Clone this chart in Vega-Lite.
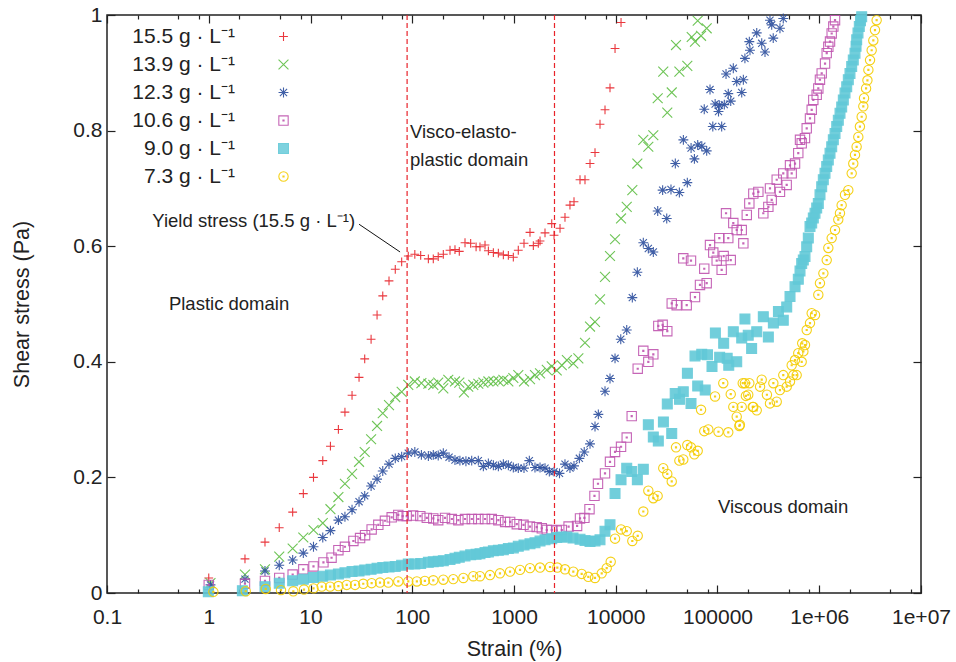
{
"$schema":"https://vega.github.io/schema/vega-lite/v6.json",
"width":814,"height":578,"autosize":"none",
"padding":{"left":107,"top":15,"right":35,"bottom":69},
"background":"white",
"config":{
 "view":{"stroke":"#222","strokeWidth":1.5},
 "font":"Liberation Sans",
 "axis":{"grid":false,"domain":false,"tickColor":"#222","tickWidth":1.2,"labelColor":"#222","titleColor":"#222","labelFontSize":21,"titleFontSize":21.5,"titleFontWeight":"normal","labelFont":"Liberation Sans","titleFont":"Liberation Sans","labelOverlap":false,"labelFlush":false,"labelBound":false},
 "legend":{"orient":"none","legendX":166,"legendY":11,"padding":0,"labelFontSize":21,"labelFont":"Liberation Sans","labelColor":"#222","labelAlign":"right","labelOffset":-59,"symbolOffset":0,"rowPadding":6,"symbolSize":121,"symbolStrokeWidth":1.1,"titleOrient":"top"}
},
"datasets":{
"pts":[
{"s":"15.5","x":1.0,"y":0.026},{"s":"15.5","x":2.27,"y":0.059},{"s":"15.5","x":3.57,"y":0.088},{"s":"15.5","x":4.93,"y":0.113},{"s":"15.5","x":6.68,"y":0.140},{"s":"15.5","x":8.5,"y":0.172},{"s":"15.5","x":10.7,"y":0.200},{"s":"15.5","x":13.2,"y":0.229},{"s":"15.5","x":15.7,"y":0.254},{"s":"15.5","x":18.8,"y":0.283},{"s":"15.5","x":21.8,"y":0.313},{"s":"15.5","x":25.6,"y":0.342},{"s":"15.5","x":30.0,"y":0.373},{"s":"15.5","x":34.1,"y":0.405},{"s":"15.5","x":39.4,"y":0.439},{"s":"15.5","x":45.1,"y":0.481},{"s":"15.5","x":51.3,"y":0.514},{"s":"15.5","x":59.1,"y":0.540},{"s":"15.5","x":68.1,"y":0.560},{"s":"15.5","x":78.7,"y":0.573},{"s":"15.5","x":91.4,"y":0.583},{"s":"15.5","x":106,"y":0.586},{"s":"15.5","x":121,"y":0.584},{"s":"15.5","x":144,"y":0.578},{"s":"15.5","x":161,"y":0.578},{"s":"15.5","x":180,"y":0.582},{"s":"15.5","x":202,"y":0.586},{"s":"15.5","x":235,"y":0.593},{"s":"15.5","x":263,"y":0.594},{"s":"15.5","x":290,"y":0.591},{"s":"15.5","x":330,"y":0.606},{"s":"15.5","x":375,"y":0.605},{"s":"15.5","x":424,"y":0.599},{"s":"15.5","x":463,"y":0.599},{"s":"15.5","x":519,"y":0.602},{"s":"15.5","x":560,"y":0.592},{"s":"15.5","x":627,"y":0.589},{"s":"15.5","x":702,"y":0.588},{"s":"15.5","x":786,"y":0.585},{"s":"15.5","x":880,"y":0.584},{"s":"15.5","x":985,"y":0.581},{"s":"15.5","x":1102,"y":0.593},{"s":"15.5","x":1254,"y":0.605},{"s":"15.5","x":1436,"y":0.624},{"s":"15.5","x":1549,"y":0.601},{"s":"15.5","x":1734,"y":0.605},{"s":"15.5","x":1802,"y":0.609},{"s":"15.5","x":2017,"y":0.623},{"s":"15.5","x":2349,"y":0.639},{"s":"15.5","x":2474,"y":0.619},{"s":"15.5","x":2833,"y":0.631},{"s":"15.5","x":3170,"y":0.650},{"s":"15.5","x":3548,"y":0.671},{"s":"15.5","x":3888,"y":0.677},{"s":"15.5","x":4454,"y":0.715},{"s":"15.5","x":4986,"y":0.715},{"s":"15.5","x":5585,"y":0.743},{"s":"15.5","x":6254,"y":0.762},{"s":"15.5","x":7003,"y":0.811},{"s":"15.5","x":7842,"y":0.836},{"s":"15.5","x":8780,"y":0.874},{"s":"15.5","x":9840,"y":0.942},{"s":"15.5","x":11270,"y":0.987},
{"s":"13.9","x":1.04,"y":0.017},{"s":"13.9","x":2.27,"y":0.032},{"s":"13.9","x":3.57,"y":0.041},{"s":"13.9","x":4.93,"y":0.063},{"s":"13.9","x":6.68,"y":0.077},{"s":"13.9","x":8.5,"y":0.096},{"s":"13.9","x":10.7,"y":0.109},{"s":"13.9","x":13.2,"y":0.121},{"s":"13.9","x":15.7,"y":0.145},{"s":"13.9","x":18.8,"y":0.166},{"s":"13.9","x":21.8,"y":0.189},{"s":"13.9","x":25.6,"y":0.206},{"s":"13.9","x":30.0,"y":0.227},{"s":"13.9","x":34.1,"y":0.244},{"s":"13.9","x":39.4,"y":0.266},{"s":"13.9","x":45.1,"y":0.289},{"s":"13.9","x":51.3,"y":0.311},{"s":"13.9","x":59.1,"y":0.325},{"s":"13.9","x":68.1,"y":0.339},{"s":"13.9","x":78.7,"y":0.348},{"s":"13.9","x":91.4,"y":0.360},{"s":"13.9","x":106,"y":0.366},{"s":"13.9","x":123,"y":0.363},{"s":"13.9","x":144,"y":0.362},{"s":"13.9","x":161,"y":0.360},{"s":"13.9","x":180,"y":0.364},{"s":"13.9","x":202,"y":0.354},{"s":"13.9","x":226,"y":0.369},{"s":"13.9","x":263,"y":0.366},{"s":"13.9","x":290,"y":0.364},{"s":"13.9","x":322,"y":0.347},{"s":"13.9","x":355,"y":0.357},{"s":"13.9","x":398,"y":0.360},{"s":"13.9","x":446,"y":0.362},{"s":"13.9","x":500,"y":0.364},{"s":"13.9","x":560,"y":0.366},{"s":"13.9","x":627,"y":0.366},{"s":"13.9","x":702,"y":0.367},{"s":"13.9","x":786,"y":0.369},{"s":"13.9","x":880,"y":0.366},{"s":"13.9","x":985,"y":0.372},{"s":"13.9","x":1102,"y":0.377},{"s":"13.9","x":1254,"y":0.366},{"s":"13.9","x":1436,"y":0.370},{"s":"13.9","x":1608,"y":0.377},{"s":"13.9","x":1802,"y":0.380},{"s":"13.9","x":2100,"y":0.386},{"s":"13.9","x":2349,"y":0.392},{"s":"13.9","x":2630,"y":0.385},{"s":"13.9","x":2950,"y":0.394},{"s":"13.9","x":3310,"y":0.403},{"s":"13.9","x":3828,"y":0.397},{"s":"13.9","x":4290,"y":0.406},{"s":"13.9","x":4986,"y":0.433},{"s":"13.9","x":5585,"y":0.461},{"s":"13.9","x":6254,"y":0.469},{"s":"13.9","x":7003,"y":0.508},{"s":"13.9","x":7842,"y":0.547},{"s":"13.9","x":8780,"y":0.583},{"s":"13.9","x":9840,"y":0.612},{"s":"13.9","x":11270,"y":0.648},{"s":"13.9","x":12820,"y":0.668},{"s":"13.9","x":14550,"y":0.697},{"s":"13.9","x":16300,"y":0.743},{"s":"13.9","x":18660,"y":0.784},{"s":"13.9","x":20900,"y":0.772},{"s":"13.9","x":23400,"y":0.792},{"s":"13.9","x":25850,"y":0.856},{"s":"13.9","x":29300,"y":0.902},{"s":"13.9","x":32100,"y":0.831},{"s":"13.9","x":35500,"y":0.866},{"s":"13.9","x":39100,"y":0.948},{"s":"13.9","x":42200,"y":0.902},{"s":"13.9","x":50500,"y":0.912},{"s":"13.9","x":55800,"y":0.962},{"s":"13.9","x":60100,"y":0.954},{"s":"13.9","x":63900,"y":0.990},{"s":"13.9","x":68900,"y":0.964},{"s":"13.9","x":78300,"y":0.977},
{"s":"12.3","x":1.04,"y":0.014},{"s":"12.3","x":2.27,"y":0.024},{"s":"12.3","x":3.57,"y":0.038},{"s":"12.3","x":4.93,"y":0.048},{"s":"12.3","x":6.68,"y":0.057},{"s":"12.3","x":8.5,"y":0.069},{"s":"12.3","x":10.7,"y":0.080},{"s":"12.3","x":13.2,"y":0.096},{"s":"12.3","x":15.7,"y":0.108},{"s":"12.3","x":18.8,"y":0.126},{"s":"12.3","x":21.8,"y":0.132},{"s":"12.3","x":25.6,"y":0.144},{"s":"12.3","x":30.0,"y":0.158},{"s":"12.3","x":34.1,"y":0.168},{"s":"12.3","x":39.4,"y":0.185},{"s":"12.3","x":45.1,"y":0.197},{"s":"12.3","x":51.3,"y":0.211},{"s":"12.3","x":59.1,"y":0.223},{"s":"12.3","x":68.1,"y":0.233},{"s":"12.3","x":78.7,"y":0.236},{"s":"12.3","x":91.4,"y":0.242},{"s":"12.3","x":106,"y":0.244},{"s":"12.3","x":123,"y":0.239},{"s":"12.3","x":144,"y":0.237},{"s":"12.3","x":161,"y":0.239},{"s":"12.3","x":180,"y":0.238},{"s":"12.3","x":202,"y":0.242},{"s":"12.3","x":230,"y":0.235},{"s":"12.3","x":263,"y":0.230},{"s":"12.3","x":294,"y":0.229},{"s":"12.3","x":337,"y":0.228},{"s":"12.3","x":384,"y":0.229},{"s":"12.3","x":446,"y":0.229},{"s":"12.3","x":500,"y":0.219},{"s":"12.3","x":560,"y":0.224},{"s":"12.3","x":627,"y":0.221},{"s":"12.3","x":702,"y":0.219},{"s":"12.3","x":786,"y":0.223},{"s":"12.3","x":880,"y":0.221},{"s":"12.3","x":985,"y":0.217},{"s":"12.3","x":1102,"y":0.216},{"s":"12.3","x":1254,"y":0.216},{"s":"12.3","x":1415,"y":0.229},{"s":"12.3","x":1608,"y":0.217},{"s":"12.3","x":1802,"y":0.217},{"s":"12.3","x":2017,"y":0.216},{"s":"12.3","x":2225,"y":0.210},{"s":"12.3","x":2474,"y":0.210},{"s":"12.3","x":2800,"y":0.207},{"s":"12.3","x":3170,"y":0.223},{"s":"12.3","x":3548,"y":0.216},{"s":"12.3","x":3888,"y":0.220},{"s":"12.3","x":4390,"y":0.233},{"s":"12.3","x":4900,"y":0.244},{"s":"12.3","x":5585,"y":0.258},{"s":"12.3","x":6254,"y":0.288},{"s":"12.3","x":6745,"y":0.309},{"s":"12.3","x":7842,"y":0.349},{"s":"12.3","x":8780,"y":0.371},{"s":"12.3","x":9840,"y":0.406},{"s":"12.3","x":11200,"y":0.439},{"s":"12.3","x":12820,"y":0.455},{"s":"12.3","x":14550,"y":0.511},{"s":"12.3","x":16300,"y":0.555},{"s":"12.3","x":18660,"y":0.606},{"s":"12.3","x":20900,"y":0.596},{"s":"12.3","x":23400,"y":0.590},{"s":"12.3","x":25850,"y":0.661},{"s":"12.3","x":28900,"y":0.697},{"s":"12.3","x":31700,"y":0.648},{"s":"12.3","x":34900,"y":0.698},{"s":"12.3","x":38500,"y":0.743},{"s":"12.3","x":42200,"y":0.693},{"s":"12.3","x":46200,"y":0.784},{"s":"12.3","x":50500,"y":0.710},{"s":"12.3","x":55000,"y":0.770},{"s":"12.3","x":59300,"y":0.751},{"s":"12.3","x":63900,"y":0.775},{"s":"12.3","x":70100,"y":0.773},{"s":"12.3","x":74100,"y":0.837},{"s":"12.3","x":78300,"y":0.765},{"s":"12.3","x":84400,"y":0.871},{"s":"12.3","x":89900,"y":0.807},{"s":"12.3","x":94800,"y":0.846},{"s":"12.3","x":102300,"y":0.833},{"s":"12.3","x":104200,"y":0.844},{"s":"12.3","x":109900,"y":0.807},{"s":"12.3","x":116700,"y":0.845},{"s":"12.3","x":121300,"y":0.898},{"s":"12.3","x":127600,"y":0.864},{"s":"12.3","x":134900,"y":0.851},{"s":"12.3","x":143000,"y":0.908},{"s":"12.3","x":154500,"y":0.885},{"s":"12.3","x":173000,"y":0.866},{"s":"12.3","x":179500,"y":0.888},{"s":"12.3","x":186000,"y":0.925},{"s":"12.3","x":205500,"y":0.954},{"s":"12.3","x":208500,"y":0.939},{"s":"12.3","x":243000,"y":0.969},{"s":"12.3","x":272000,"y":0.951},{"s":"12.3","x":293000,"y":0.936},{"s":"12.3","x":328000,"y":0.991},{"s":"12.3","x":341000,"y":0.983},{"s":"12.3","x":353000,"y":0.960},{"s":"12.3","x":411000,"y":0.977},{"s":"12.3","x":443000,"y":0.994},
{"s":"10.6","x":1.0,"y":0.014},{"s":"10.6","x":2.27,"y":0.016},{"s":"10.6","x":3.57,"y":0.021},{"s":"10.6","x":4.93,"y":0.026},{"s":"10.6","x":6.68,"y":0.032},{"s":"10.6","x":8.5,"y":0.041},{"s":"10.6","x":10.7,"y":0.046},{"s":"10.6","x":13.4,"y":0.053},{"s":"10.6","x":16.1,"y":0.061},{"s":"10.6","x":18.8,"y":0.074},{"s":"10.6","x":21.8,"y":0.080},{"s":"10.6","x":26.4,"y":0.090},{"s":"10.6","x":30.7,"y":0.095},{"s":"10.6","x":34.4,"y":0.100},{"s":"10.6","x":39.9,"y":0.110},{"s":"10.6","x":46.4,"y":0.118},{"s":"10.6","x":53.9,"y":0.125},{"s":"10.6","x":62.8,"y":0.131},{"s":"10.6","x":72.9,"y":0.135},{"s":"10.6","x":80.5,"y":0.133},{"s":"10.6","x":88.2,"y":0.133},{"s":"10.6","x":102,"y":0.134},{"s":"10.6","x":120,"y":0.133},{"s":"10.6","x":139,"y":0.130},{"s":"10.6","x":161,"y":0.129},{"s":"10.6","x":180,"y":0.126},{"s":"10.6","x":210,"y":0.130},{"s":"10.6","x":245,"y":0.128},{"s":"10.6","x":284,"y":0.126},{"s":"10.6","x":330,"y":0.128},{"s":"10.6","x":385,"y":0.128},{"s":"10.6","x":446,"y":0.128},{"s":"10.6","x":519,"y":0.128},{"s":"10.6","x":605,"y":0.128},{"s":"10.6","x":702,"y":0.126},{"s":"10.6","x":818,"y":0.123},{"s":"10.6","x":916,"y":0.123},{"s":"10.6","x":1065,"y":0.119},{"s":"10.6","x":1240,"y":0.118},{"s":"10.6","x":1436,"y":0.115},{"s":"10.6","x":1672,"y":0.114},{"s":"10.6","x":1876,"y":0.112},{"s":"10.6","x":2100,"y":0.109},{"s":"10.6","x":2349,"y":0.109},{"s":"10.6","x":2630,"y":0.108},{"s":"10.6","x":2950,"y":0.109},{"s":"10.6","x":3440,"y":0.115},{"s":"10.6","x":4170,"y":0.116},{"s":"10.6","x":4454,"y":0.129},{"s":"10.6","x":4920,"y":0.130},{"s":"10.6","x":5520,"y":0.145},{"s":"10.6","x":6180,"y":0.168},{"s":"10.6","x":6690,"y":0.189},{"s":"10.6","x":7842,"y":0.207},{"s":"10.6","x":8780,"y":0.227},{"s":"10.6","x":9840,"y":0.244},{"s":"10.6","x":11270,"y":0.253},{"s":"10.6","x":12820,"y":0.269},{"s":"10.6","x":14350,"y":0.306},{"s":"10.6","x":16440,"y":0.388},{"s":"10.6","x":18660,"y":0.419},{"s":"10.6","x":20900,"y":0.400},{"s":"10.6","x":23400,"y":0.413},{"s":"10.6","x":26200,"y":0.462},{"s":"10.6","x":28900,"y":0.464},{"s":"10.6","x":32100,"y":0.453},{"s":"10.6","x":35500,"y":0.501},{"s":"10.6","x":39700,"y":0.498},{"s":"10.6","x":46100,"y":0.579},{"s":"10.6","x":49800,"y":0.498},{"s":"10.6","x":54900,"y":0.575},{"s":"10.6","x":60100,"y":0.512},{"s":"10.6","x":67300,"y":0.533},{"s":"10.6","x":74100,"y":0.561},{"s":"10.6","x":78300,"y":0.536},{"s":"10.6","x":84400,"y":0.602},{"s":"10.6","x":90900,"y":0.589},{"s":"10.6","x":98200,"y":0.575},{"s":"10.6","x":104200,"y":0.614},{"s":"10.6","x":109900,"y":0.559},{"s":"10.6","x":115000,"y":0.583},{"s":"10.6","x":121300,"y":0.657},{"s":"10.6","x":127600,"y":0.614},{"s":"10.6","x":134900,"y":0.576},{"s":"10.6","x":143000,"y":0.640},{"s":"10.6","x":154500,"y":0.628},{"s":"10.6","x":173000,"y":0.628},{"s":"10.6","x":179500,"y":0.605},{"s":"10.6","x":194000,"y":0.654},{"s":"10.6","x":205500,"y":0.674},{"s":"10.6","x":225000,"y":0.691},{"s":"10.6","x":252000,"y":0.694},{"s":"10.6","x":282000,"y":0.657},{"s":"10.6","x":316000,"y":0.668},{"s":"10.6","x":328000,"y":0.700},{"s":"10.6","x":341000,"y":0.680},{"s":"10.6","x":382000,"y":0.715},{"s":"10.6","x":411000,"y":0.694},{"s":"10.6","x":443000,"y":0.726},{"s":"10.6","x":478600,"y":0.706},{"s":"10.6","x":516000,"y":0.740},{"s":"10.6","x":536000,"y":0.726},{"s":"10.6","x":578000,"y":0.743},{"s":"10.6","x":622000,"y":0.761},{"s":"10.6","x":647000,"y":0.784},{"s":"10.6","x":672000,"y":0.778},{"s":"10.6","x":724000,"y":0.787},{"s":"10.6","x":753000,"y":0.804},{"s":"10.6","x":811000,"y":0.821},{"s":"10.6","x":843000,"y":0.836},{"s":"10.6","x":874000,"y":0.853},{"s":"10.6","x":944000,"y":0.862},{"s":"10.6","x":979000,"y":0.873},{"s":"10.6","x":1016000,"y":0.888},{"s":"10.6","x":1057000,"y":0.899},{"s":"10.6","x":1140000,"y":0.916},{"s":"10.6","x":1184000,"y":0.934},{"s":"10.6","x":1228000,"y":0.945},{"s":"10.6","x":1276000,"y":0.954},{"s":"10.6","x":1325000,"y":0.968},{"s":"10.6","x":1375000,"y":0.980},{"s":"10.6","x":1429000,"y":0.991},
{"s":"9.0","x":0.99,"y":0.002},{"s":"9.0","x":2.14,"y":0.004},{"s":"9.0","x":3.57,"y":0.011},{"s":"9.0","x":4.93,"y":0.017},{"s":"9.0","x":6.68,"y":0.021},{"s":"9.0","x":8.5,"y":0.024},{"s":"9.0","x":10.7,"y":0.027},{"s":"9.0","x":13.2,"y":0.029},{"s":"9.0","x":15.7,"y":0.031},{"s":"9.0","x":18.8,"y":0.033},{"s":"9.0","x":21.8,"y":0.035},{"s":"9.0","x":25.6,"y":0.037},{"s":"9.0","x":30.0,"y":0.038},{"s":"9.0","x":34.1,"y":0.040},{"s":"9.0","x":39.4,"y":0.041},{"s":"9.0","x":45.1,"y":0.043},{"s":"9.0","x":51.3,"y":0.044},{"s":"9.0","x":59.1,"y":0.045},{"s":"9.0","x":68.1,"y":0.046},{"s":"9.0","x":78.7,"y":0.048},{"s":"9.0","x":91.4,"y":0.050},{"s":"9.0","x":106,"y":0.050},{"s":"9.0","x":121,"y":0.051},{"s":"9.0","x":144,"y":0.053},{"s":"9.0","x":161,"y":0.054},{"s":"9.0","x":180,"y":0.055},{"s":"9.0","x":202,"y":0.056},{"s":"9.0","x":235,"y":0.058},{"s":"9.0","x":263,"y":0.060},{"s":"9.0","x":290,"y":0.062},{"s":"9.0","x":330,"y":0.064},{"s":"9.0","x":375,"y":0.066},{"s":"9.0","x":424,"y":0.067},{"s":"9.0","x":463,"y":0.068},{"s":"9.0","x":519,"y":0.070},{"s":"9.0","x":560,"y":0.071},{"s":"9.0","x":627,"y":0.073},{"s":"9.0","x":702,"y":0.074},{"s":"9.0","x":786,"y":0.075},{"s":"9.0","x":880,"y":0.077},{"s":"9.0","x":985,"y":0.078},{"s":"9.0","x":1102,"y":0.081},{"s":"9.0","x":1254,"y":0.083},{"s":"9.0","x":1436,"y":0.085},{"s":"9.0","x":1608,"y":0.087},{"s":"9.0","x":1802,"y":0.090},{"s":"9.0","x":2017,"y":0.092},{"s":"9.0","x":2349,"y":0.094},{"s":"9.0","x":2630,"y":0.096},{"s":"9.0","x":2950,"y":0.097},{"s":"9.0","x":3310,"y":0.097},{"s":"9.0","x":3800,"y":0.095},{"s":"9.0","x":4454,"y":0.093},{"s":"9.0","x":4986,"y":0.091},{"s":"9.0","x":5585,"y":0.089},{"s":"9.0","x":6254,"y":0.090},{"s":"9.0","x":7000,"y":0.092},{"s":"9.0","x":7840,"y":0.107},{"s":"9.0","x":8780,"y":0.118},{"s":"9.0","x":9840,"y":0.172},{"s":"9.0","x":11270,"y":0.196},{"s":"9.0","x":12820,"y":0.216},{"s":"9.0","x":14350,"y":0.210},{"s":"9.0","x":16300,"y":0.196},{"s":"9.0","x":18660,"y":0.214},{"s":"9.0","x":20900,"y":0.291},{"s":"9.0","x":23400,"y":0.270},{"s":"9.0","x":26200,"y":0.263},{"s":"9.0","x":29400,"y":0.296},{"s":"9.0","x":32100,"y":0.327},{"s":"9.0","x":35500,"y":0.276},{"s":"9.0","x":38400,"y":0.345},{"s":"9.0","x":42300,"y":0.335},{"s":"9.0","x":46100,"y":0.348},{"s":"9.0","x":50600,"y":0.380},{"s":"9.0","x":54900,"y":0.328},{"s":"9.0","x":60100,"y":0.410},{"s":"9.0","x":63900,"y":0.358},{"s":"9.0","x":70000,"y":0.413},{"s":"9.0","x":75700,"y":0.351},{"s":"9.0","x":79800,"y":0.412},{"s":"9.0","x":88300,"y":0.392},{"s":"9.0","x":95300,"y":0.450},{"s":"9.0","x":105000,"y":0.408},{"s":"9.0","x":115000,"y":0.432},{"s":"9.0","x":124500,"y":0.406},{"s":"9.0","x":129000,"y":0.394},{"s":"9.0","x":143000,"y":0.452},{"s":"9.0","x":154500,"y":0.400},{"s":"9.0","x":173000,"y":0.441},{"s":"9.0","x":186000,"y":0.474},{"s":"9.0","x":200500,"y":0.446},{"s":"9.0","x":216500,"y":0.423},{"s":"9.0","x":243000,"y":0.452},{"s":"9.0","x":282000,"y":0.478},{"s":"9.0","x":316000,"y":0.443},{"s":"9.0","x":354000,"y":0.467},{"s":"9.0","x":397000,"y":0.487},{"s":"9.0","x":443000,"y":0.472},{"s":"9.0","x":479000,"y":0.495},{"s":"9.0","x":516000,"y":0.513},{"s":"9.0","x":578000,"y":0.530},{"s":"9.0","x":622500,"y":0.543},{"s":"9.0","x":647000,"y":0.557},{"s":"9.0","x":672300,"y":0.570},{"s":"9.0","x":697100,"y":0.576},{"s":"9.0","x":724400,"y":0.582},{"s":"9.0","x":752800,"y":0.599},{"s":"9.0","x":780500,"y":0.614},{"s":"9.0","x":811100,"y":0.634},{"s":"9.0","x":843000,"y":0.640},{"s":"9.0","x":874100,"y":0.649},{"s":"9.0","x":908400,"y":0.657},{"s":"9.0","x":944000,"y":0.666},{"s":"9.0","x":978800,"y":0.674},{"s":"9.0","x":1017200,"y":0.689},{"s":"9.0","x":1057000,"y":0.703},{"s":"9.0","x":1096000,"y":0.715},{"s":"9.0","x":1139000,"y":0.726},{"s":"9.0","x":1184000,"y":0.738},{"s":"9.0","x":1227000,"y":0.749},{"s":"9.0","x":1276000,"y":0.761},{"s":"9.0","x":1326000,"y":0.772},{"s":"9.0","x":1375000,"y":0.784},{"s":"9.0","x":1429000,"y":0.795},{"s":"9.0","x":1485000,"y":0.807},{"s":"9.0","x":1539000,"y":0.818},{"s":"9.0","x":1600000,"y":0.830},{"s":"9.0","x":1662000,"y":0.841},{"s":"9.0","x":1724000,"y":0.853},{"s":"9.0","x":1791000,"y":0.865},{"s":"9.0","x":1862000,"y":0.876},{"s":"9.0","x":1930000,"y":0.888},{"s":"9.0","x":2005000,"y":0.899},{"s":"9.0","x":2084000,"y":0.911},{"s":"9.0","x":2160000,"y":0.922},{"s":"9.0","x":2245000,"y":0.934},{"s":"9.0","x":2300000,"y":0.946},{"s":"9.0","x":2334000,"y":0.957},{"s":"9.0","x":2403000,"y":0.969},{"s":"9.0","x":2475000,"y":0.980},{"s":"9.0","x":2543000,"y":0.990},{"s":"9.0","x":2613000,"y":0.997},
{"s":"7.3","x":1.11,"y":0.002},{"s":"7.3","x":2.31,"y":0.003},{"s":"7.3","x":3.63,"y":0.007},{"s":"7.3","x":5.13,"y":0.005},{"s":"7.3","x":6.78,"y":0.003},{"s":"7.3","x":8.63,"y":0.006},{"s":"7.3","x":10.7,"y":0.008},{"s":"7.3","x":12.9,"y":0.011},{"s":"7.3","x":15.6,"y":0.011},{"s":"7.3","x":18.8,"y":0.012},{"s":"7.3","x":22.7,"y":0.014},{"s":"7.3","x":27.4,"y":0.014},{"s":"7.3","x":33.0,"y":0.016},{"s":"7.3","x":39.9,"y":0.017},{"s":"7.3","x":48.2,"y":0.018},{"s":"7.3","x":58.2,"y":0.018},{"s":"7.3","x":72.9,"y":0.020},{"s":"7.3","x":91.4,"y":0.020},{"s":"7.3","x":111,"y":0.020},{"s":"7.3","x":133,"y":0.021},{"s":"7.3","x":161,"y":0.022},{"s":"7.3","x":202,"y":0.023},{"s":"7.3","x":253,"y":0.024},{"s":"7.3","x":318,"y":0.026},{"s":"7.3","x":398,"y":0.029},{"s":"7.3","x":463,"y":0.029},{"s":"7.3","x":581,"y":0.031},{"s":"7.3","x":728,"y":0.034},{"s":"7.3","x":914,"y":0.037},{"s":"7.3","x":1146,"y":0.040},{"s":"7.3","x":1436,"y":0.043},{"s":"7.3","x":1802,"y":0.044},{"s":"7.3","x":2259,"y":0.045},{"s":"7.3","x":2665,"y":0.044},{"s":"7.3","x":3170,"y":0.041},{"s":"7.3","x":3828,"y":0.037},{"s":"7.3","x":4625,"y":0.033},{"s":"7.3","x":5375,"y":0.028},{"s":"7.3","x":6250,"y":0.026},{"s":"7.3","x":7280,"y":0.034},{"s":"7.3","x":8150,"y":0.043},{"s":"7.3","x":8920,"y":0.054},{"s":"7.3","x":9840,"y":0.094},{"s":"7.3","x":11270,"y":0.110},{"s":"7.3","x":12820,"y":0.107},{"s":"7.3","x":14550,"y":0.090},{"s":"7.3","x":16440,"y":0.099},{"s":"7.3","x":18660,"y":0.141},{"s":"7.3","x":20900,"y":0.177},{"s":"7.3","x":23400,"y":0.164},{"s":"7.3","x":25800,"y":0.168},{"s":"7.3","x":29300,"y":0.216},{"s":"7.3","x":32100,"y":0.206},{"s":"7.3","x":35500,"y":0.193},{"s":"7.3","x":39100,"y":0.252},{"s":"7.3","x":42200,"y":0.229},{"s":"7.3","x":46100,"y":0.231},{"s":"7.3","x":50500,"y":0.256},{"s":"7.3","x":54900,"y":0.252},{"s":"7.3","x":59200,"y":0.240},{"s":"7.3","x":63900,"y":0.246},{"s":"7.3","x":68900,"y":0.317},{"s":"7.3","x":74100,"y":0.280},{"s":"7.3","x":81200,"y":0.283},{"s":"7.3","x":94600,"y":0.340},{"s":"7.3","x":102200,"y":0.279},{"s":"7.3","x":114000,"y":0.363},{"s":"7.3","x":127600,"y":0.278},{"s":"7.3","x":134900,"y":0.344},{"s":"7.3","x":143000,"y":0.322},{"s":"7.3","x":154500,"y":0.305},{"s":"7.3","x":164000,"y":0.289},{"s":"7.3","x":166000,"y":0.291},{"s":"7.3","x":173000,"y":0.322},{"s":"7.3","x":177000,"y":0.363},{"s":"7.3","x":186000,"y":0.363},{"s":"7.3","x":190000,"y":0.341},{"s":"7.3","x":200500,"y":0.343},{"s":"7.3","x":205500,"y":0.363},{"s":"7.3","x":222000,"y":0.322},{"s":"7.3","x":225000,"y":0.322},{"s":"7.3","x":243000,"y":0.316},{"s":"7.3","x":262000,"y":0.357},{"s":"7.3","x":272000,"y":0.369},{"s":"7.3","x":306000,"y":0.343},{"s":"7.3","x":328000,"y":0.328},{"s":"7.3","x":354000,"y":0.363},{"s":"7.3","x":382000,"y":0.331},{"s":"7.3","x":411000,"y":0.351},{"s":"7.3","x":443000,"y":0.377},{"s":"7.3","x":479000,"y":0.357},{"s":"7.3","x":516000,"y":0.366},{"s":"7.3","x":536000,"y":0.394},{"s":"7.3","x":556000,"y":0.377},{"s":"7.3","x":578000,"y":0.403},{"s":"7.3","x":600000,"y":0.377},{"s":"7.3","x":622000,"y":0.415},{"s":"7.3","x":672000,"y":0.400},{"s":"7.3","x":680000,"y":0.432},{"s":"7.3","x":698000,"y":0.418},{"s":"7.3","x":724000,"y":0.429},{"s":"7.3","x":753000,"y":0.455},{"s":"7.3","x":811000,"y":0.467},{"s":"7.3","x":843000,"y":0.484},{"s":"7.3","x":909000,"y":0.481},{"s":"7.3","x":979000,"y":0.516},{"s":"7.3","x":1016000,"y":0.536},{"s":"7.3","x":1098000,"y":0.553},{"s":"7.3","x":1184000,"y":0.576},{"s":"7.3","x":1228000,"y":0.597},{"s":"7.3","x":1325000,"y":0.614},{"s":"7.3","x":1429000,"y":0.628},{"s":"7.3","x":1538000,"y":0.646},{"s":"7.3","x":1598000,"y":0.657},{"s":"7.3","x":1660000,"y":0.671},{"s":"7.3","x":1791000,"y":0.689},{"s":"7.3","x":1930000,"y":0.697},{"s":"7.3","x":2084000,"y":0.726},{"s":"7.3","x":2160000,"y":0.743},{"s":"7.3","x":2245000,"y":0.758},{"s":"7.3","x":2330000,"y":0.772},{"s":"7.3","x":2420000,"y":0.789},{"s":"7.3","x":2510000,"y":0.807},{"s":"7.3","x":2612000,"y":0.824},{"s":"7.3","x":2710000,"y":0.842},{"s":"7.3","x":2755000,"y":0.856},{"s":"7.3","x":2885000,"y":0.873},{"s":"7.3","x":2975000,"y":0.887},{"s":"7.3","x":3040000,"y":0.905},{"s":"7.3","x":3155000,"y":0.922},{"s":"7.3","x":3275000,"y":0.939},{"s":"7.3","x":3400000,"y":0.956},{"s":"7.3","x":3530000,"y":0.974},{"s":"7.3","x":3665000,"y":0.991}
]},
"layer":[
{"data":{"name":"pts"},
 "mark":{"type":"point","size":121,"strokeWidth":1.1,"opacity":0.9},
 "encoding":{
  "x":{"field":"x","type":"quantitative","scale":{"type":"log","domain":[0.1,10000000],"nice":false},
   "axis":{"orient":"bottom","values":[0.1,0.2,0.5,0.8,1,2,5,8,10,20,50,80,100,200,500,800,1000,2000,5000,8000,10000,20000,50000,80000,100000,200000,500000,800000,1000000,2000000,5000000,8000000,10000000],
    "tickSize":{"condition":{"test":"abs(log(datum.value)/LN10 - round(log(datum.value)/LN10)) > 0.01","value":-4},"value":-8},
    "labelExpr":"abs(log(datum.value)/LN10 - round(log(datum.value)/LN10)) > 0.01 ? '' : datum.value < 0.5 ? '0.1' : datum.value < 500000 ? format(datum.value, 'd') : '1e+0' + format(round(log(datum.value)/LN10), 'd')",
    "labelPadding":21,"title":"Strain (%)","titlePadding":7}},
  "y":{"field":"y","type":"quantitative","scale":{"domain":[0,1],"nice":false,"zero":false},
   "axis":{"orient":"left","values":[0,0.2,0.4,0.6,0.8,1],"tickSize":-8,"labelExpr":"format(datum.value, '~g')","labelPadding":13,"title":"Shear stress (Pa)","titlePadding":39}},
  "stroke":{"field":"s","type":"nominal","scale":{"domain":["15.5","13.9","12.3","10.6","9.0","7.3"],"range":["#e8232a","#5fbf45","#2d4f9e","#c055b0","#62c9d8","#f5cd00"]},"legend":{"title":null,"labelExpr":"datum.label + ' g · L⁻¹'"}},
  "fill":{"field":"s","type":"nominal","scale":{"domain":["15.5","13.9","12.3","10.6","9.0","7.3"],"range":["transparent","transparent","transparent","transparent","#62c9d8","transparent"]},"legend":{"title":null,"labelExpr":"datum.label + ' g · L⁻¹'"}},
  "shape":{"field":"s","type":"nominal","scale":{"domain":["15.5","13.9","12.3","10.6","9.0","7.3"],"range":["M-0.8,0L0.8,0M0,-0.8L0,0.8","M-0.9,-0.9L0.9,0.9M-0.9,0.9L0.9,-0.9","M-0.9,0L0.9,0M0,-0.9L0,0.9M-0.65,-0.65L0.65,0.65M-0.65,0.65L0.65,-0.65","M-0.85,-0.85L0.85,-0.85L0.85,0.85L-0.85,0.85ZM-0.1,-0.1L0.1,-0.1L0.1,0.1L-0.1,0.1Z","M-0.9,-0.9L0.9,-0.9L0.9,0.9L-0.9,0.9Z","M0.85,0A0.85,0.85,0,1,1,-0.85,0A0.85,0.85,0,1,1,0.85,0ZM-0.1,-0.1L0.1,-0.1L0.1,0.1L-0.1,0.1Z"]},"legend":{"title":null,"labelExpr":"datum.label + ' g · L⁻¹'"}}
 }},
{"data":{"values":[{"x":89},{"x":2500}]},
 "mark":{"type":"rule","color":"#e8232a","strokeDash":[5,3],"strokeWidth":1.2},
 "encoding":{"x":{"field":"x","type":"quantitative","axis":null}}},
{"data":{"values":[{"x":30.0,"y":0.638},{"x":75.9,"y":0.590}]},
 "mark":{"type":"line","color":"#111","strokeWidth":1},
 "encoding":{"x":{"field":"x","type":"quantitative","axis":null},"y":{"field":"y","type":"quantitative","axis":null}}},
{"data":{"values":[{"t":"Visco-elasto-","x":95,"y":0.798},{"t":"plastic domain","x":95,"y":0.749},{"t":"Plastic domain","x":0.406,"y":0.5},{"t":"Viscous domain","x":101000,"y":0.149}]},
 "mark":{"type":"text","align":"left","baseline":"middle","fontSize":18.5,"font":"Liberation Sans","color":"#222"},
 "encoding":{"text":{"field":"t"},
  "x":{"field":"x","type":"quantitative","axis":{"orient":"top","values":[0.1,0.2,0.5,0.8,1,2,5,8,10,20,50,80,100,200,500,800,1000,2000,5000,8000,10000,20000,50000,80000,100000,200000,500000,800000,1000000,2000000,5000000,8000000,10000000],"tickSize":{"condition":{"test":"abs(log(datum.value)/LN10 - round(log(datum.value)/LN10)) > 0.01","value":-4},"value":-8},"labels":false,"title":null}},
  "y":{"field":"y","type":"quantitative","axis":{"orient":"right","values":[0,0.2,0.4,0.6,0.8,1],"tickSize":-8,"labels":false,"title":null}}}},
{"data":{"values":[{"t":"Yield stress (15.5 g · L⁻¹)","x":27.4,"y":0.644}]},
 "mark":{"type":"text","align":"right","baseline":"middle","fontSize":18.5,"font":"Liberation Sans","color":"#222"},
 "encoding":{"text":{"field":"t"},"x":{"field":"x","type":"quantitative","axis":null},"y":{"field":"y","type":"quantitative","axis":null}}}
],
"resolve":{"axis":{"x":"independent","y":"independent"}}
}
